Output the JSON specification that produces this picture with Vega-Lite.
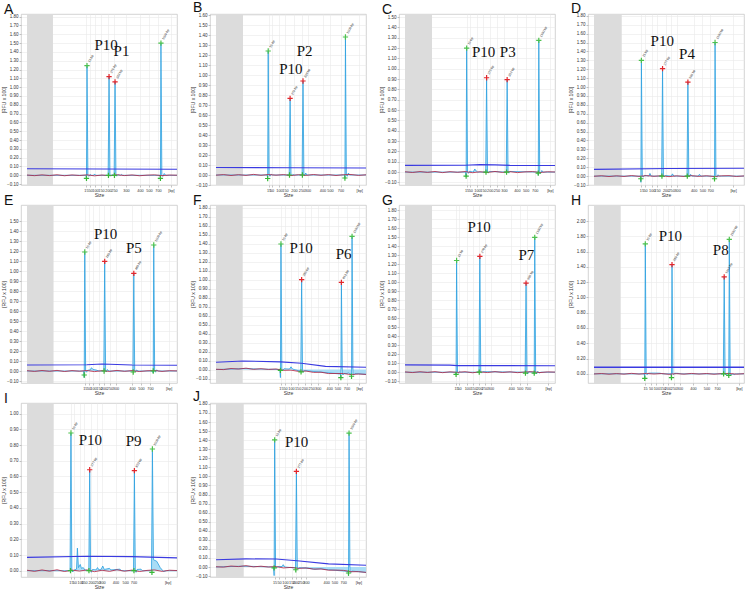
{
"$schema":"https://vega.github.io/schema/vega-lite/v6.json",
"background":"white",
"padding":{"left":0,"top":0,"right":0,"bottom":0},
"config":{
"font":"Liberation Sans",
"view":{"stroke":"#c8c8c8","strokeWidth":0.8},
"axis":{"tickCount":100,"labelFontSize":4.5,"titleFontSize":5,"titleFontWeight":"normal","labelColor":"#333333","titleColor":"#333333","gridColor":"#e9e9e9","gridWidth":0.6,"domain":false,"tickSize":2,"tickColor":"#888888","tickWidth":0.5,"labelPadding":1,"titlePadding":1,"labelOverlap":false,"labelFlush":false},
"axisY":{"minExtent":13,"maxExtent":13,"titlePadding":2},
"axisX":{"labelAngle":0,"labelFontSize":3.8},
"title":{"anchor":"start","fontSize":14,"fontWeight":"normal","offset":0,"baseline":"bottom","dy":7,"dx":3,"color":"#111111","frame":"bounds"}
},
"datasets":{
"A":[
{"s":"g","t":0,"t2":17.3},
{"s":"h","t":0,"v":0.075},{"s":"h","t":50,"v":0.072},{"s":"h","t":100,"v":0.068},
{"s":"b","t":0,"v":0.003},{"s":"b","t":5,"v":-0.004},{"s":"b","t":10,"v":0.005},{"s":"b","t":15,"v":-0.003},{"s":"b","t":20,"v":0.006},{"s":"b","t":25,"v":-0.005},{"s":"b","t":30,"v":0.004},{"s":"b","t":35,"v":-0.002},{"s":"b","t":40,"v":0.005},{"s":"b","t":45,"v":-0.006},{"s":"b","t":50,"v":0.003},{"s":"b","t":55,"v":-0.004},{"s":"b","t":60,"v":0.006},{"s":"b","t":65,"v":-0.003},{"s":"b","t":70,"v":0.004},{"s":"b","t":75,"v":-0.005},{"s":"b","t":80,"v":0.002},{"s":"b","t":85,"v":0.005},{"s":"b","t":90,"v":-0.004},{"s":"b","t":95,"v":0.003},{"s":"b","t":100,"v":0.001},
{"s":"p","t":0,"v":0},{"s":"p","t":39.3,"v":0},{"s":"p","t":39.65,"v":-0.04},{"s":"p","t":40,"v":1.245},{"s":"p","t":40.6,"v":0},{"s":"p","t":41.2,"v":-0.012},{"s":"p","t":42,"v":0.008},{"s":"p","t":43,"v":0},{"s":"p","t":44.5,"v":0},{"s":"p","t":45,"v":0.015},{"s":"p","t":45.8,"v":0},{"s":"p","t":54.1,"v":0},{"s":"p","t":54.7,"v":1.12},{"s":"p","t":55.3,"v":0},{"s":"p","t":55.8,"v":-0.01},{"s":"p","t":56.5,"v":0.006},{"s":"p","t":58.1,"v":0},{"s":"p","t":58.7,"v":1.06},{"s":"p","t":59.3,"v":0},{"s":"p","t":59.8,"v":-0.01},{"s":"p","t":60.5,"v":0.006},{"s":"p","t":62.3,"v":0},{"s":"p","t":63,"v":0.01},{"s":"p","t":63.8,"v":0},{"s":"p","t":88.6,"v":0},{"s":"p","t":88.95,"v":-0.035},{"s":"p","t":89.3,"v":1.5},{"s":"p","t":89.9,"v":0},{"s":"p","t":90.5,"v":-0.012},{"s":"p","t":91.5,"v":0.02},{"s":"p","t":92.5,"v":0},{"s":"p","t":100,"v":0},
{"s":"m","t":40,"v":1.245,"k":"L"},{"s":"m","t":89.3,"v":1.5,"k":"L"},{"s":"m","t":54.7,"v":1.12,"k":"S"},{"s":"m","t":58.7,"v":1.06,"k":"S"},{"s":"m","t":39.65,"v":-0.035,"k":"B"},{"s":"m","t":54.3,"v":0,"k":"B"},{"s":"m","t":58.3,"v":0,"k":"B"},{"s":"m","t":88.95,"v":-0.035,"k":"B"},
{"s":"l","t":40,"v":1.245,"lab":"15 bp"},{"s":"l","t":54.7,"v":1.12,"lab":"276 bp"},{"s":"l","t":58.7,"v":1.06,"lab":"323 bp"},{"s":"l","t":89.3,"v":1.5,"lab":"1500 bp"},
{"s":"P","t":52.7,"v":1.48,"lab":"P10"},{"s":"P","t":63,"v":1.41,"lab":"P1"}
],
"B":[
{"s":"g","t":0,"t2":18},
{"s":"h","t":0,"v":0.075},{"s":"h","t":50,"v":0.072},{"s":"h","t":100,"v":0.07},
{"s":"b","t":0,"v":-0.002},{"s":"b","t":5,"v":0.004},{"s":"b","t":10,"v":-0.005},{"s":"b","t":15,"v":0.003},{"s":"b","t":20,"v":-0.004},{"s":"b","t":25,"v":0.006},{"s":"b","t":30,"v":-0.003},{"s":"b","t":35,"v":0.005},{"s":"b","t":40,"v":-0.002},{"s":"b","t":45,"v":0.004},{"s":"b","t":50,"v":-0.006},{"s":"b","t":55,"v":0.003},{"s":"b","t":60,"v":-0.004},{"s":"b","t":65,"v":0.005},{"s":"b","t":70,"v":-0.003},{"s":"b","t":75,"v":0.004},{"s":"b","t":80,"v":-0.005},{"s":"b","t":85,"v":0.003},{"s":"b","t":90,"v":0.005},{"s":"b","t":95,"v":-0.004},{"s":"b","t":100,"v":0.002},
{"s":"p","t":0,"v":0},{"s":"p","t":34.1,"v":0},{"s":"p","t":34.45,"v":-0.04},{"s":"p","t":34.8,"v":1.24},{"s":"p","t":35.4,"v":0},{"s":"p","t":36,"v":-0.012},{"s":"p","t":36.8,"v":0.008},{"s":"p","t":37.6,"v":0},{"s":"p","t":48.8,"v":0},{"s":"p","t":49.4,"v":0.767},{"s":"p","t":50,"v":0},{"s":"p","t":50.5,"v":-0.01},{"s":"p","t":51.2,"v":0.006},{"s":"p","t":52,"v":0},{"s":"p","t":57.4,"v":0},{"s":"p","t":58,"v":0.94},{"s":"p","t":58.6,"v":0},{"s":"p","t":59.1,"v":-0.01},{"s":"p","t":59.8,"v":0.02},{"s":"p","t":60.6,"v":0},{"s":"p","t":85.6,"v":0},{"s":"p","t":85.95,"v":-0.035},{"s":"p","t":86.3,"v":1.38},{"s":"p","t":86.9,"v":0},{"s":"p","t":87.5,"v":-0.012},{"s":"p","t":88.3,"v":0.02},{"s":"p","t":89,"v":0},{"s":"p","t":100,"v":0},
{"s":"m","t":34.8,"v":1.24,"k":"L"},{"s":"m","t":86.3,"v":1.38,"k":"L"},{"s":"m","t":49.4,"v":0.767,"k":"S"},{"s":"m","t":58,"v":0.94,"k":"S"},{"s":"m","t":34.45,"v":-0.035,"k":"B"},{"s":"m","t":49,"v":0,"k":"B"},{"s":"m","t":57.6,"v":0,"k":"B"},{"s":"m","t":85.95,"v":-0.03,"k":"B"},
{"s":"l","t":34.8,"v":1.24,"lab":"15 bp"},{"s":"l","t":49.4,"v":0.767,"lab":"276 bp"},{"s":"l","t":58,"v":0.94,"lab":"339 bp"},{"s":"l","t":86.3,"v":1.38,"lab":"1500 bp"},
{"s":"P","t":49.9,"v":1.06,"lab":"P10"},{"s":"P","t":59.1,"v":1.24,"lab":"P2"}
],
"C":[
{"s":"g","t":0,"t2":18},
{"s":"h","t":0,"v":0.065},{"s":"h","t":40,"v":0.066},{"s":"h","t":50,"v":0.072},{"s":"h","t":60,"v":0.07},{"s":"h","t":70,"v":0.065},{"s":"h","t":100,"v":0.063},
{"s":"b","t":0,"v":0.003},{"s":"b","t":5,"v":-0.004},{"s":"b","t":10,"v":0.005},{"s":"b","t":15,"v":-0.003},{"s":"b","t":20,"v":0.006},{"s":"b","t":25,"v":-0.005},{"s":"b","t":30,"v":0.004},{"s":"b","t":35,"v":-0.002},{"s":"b","t":40,"v":0.005},{"s":"b","t":45,"v":-0.006},{"s":"b","t":50,"v":0.003},{"s":"b","t":55,"v":-0.004},{"s":"b","t":60,"v":0.006},{"s":"b","t":65,"v":-0.003},{"s":"b","t":70,"v":0.004},{"s":"b","t":75,"v":-0.005},{"s":"b","t":80,"v":0.002},{"s":"b","t":85,"v":0.005},{"s":"b","t":90,"v":-0.004},{"s":"b","t":95,"v":0.003},{"s":"b","t":100,"v":0.001},
{"s":"p","t":0,"v":0},{"s":"p","t":40.4,"v":0},{"s":"p","t":40.75,"v":-0.045},{"s":"p","t":41.1,"v":1.2},{"s":"p","t":41.7,"v":0},{"s":"p","t":42.3,"v":-0.012},{"s":"p","t":43.1,"v":0.008},{"s":"p","t":45.5,"v":0},{"s":"p","t":46.5,"v":0.03},{"s":"p","t":47.5,"v":0.01},{"s":"p","t":48.5,"v":0},{"s":"p","t":53.8,"v":0},{"s":"p","t":54.4,"v":0.913},{"s":"p","t":55,"v":0},{"s":"p","t":55.5,"v":-0.01},{"s":"p","t":56.2,"v":0.006},{"s":"p","t":67.5,"v":0},{"s":"p","t":68.1,"v":0.894},{"s":"p","t":68.7,"v":0},{"s":"p","t":69.2,"v":-0.01},{"s":"p","t":69.9,"v":0.006},{"s":"p","t":88.5,"v":0},{"s":"p","t":88.85,"v":-0.03},{"s":"p","t":89.2,"v":1.274},{"s":"p","t":89.8,"v":0},{"s":"p","t":90.4,"v":-0.012},{"s":"p","t":91.2,"v":0.015},{"s":"p","t":92,"v":0},{"s":"p","t":100,"v":0},
{"s":"m","t":41.1,"v":1.2,"k":"L"},{"s":"m","t":89.2,"v":1.274,"k":"L"},{"s":"m","t":54.4,"v":0.913,"k":"S"},{"s":"m","t":68.1,"v":0.894,"k":"S"},{"s":"m","t":40.75,"v":-0.04,"k":"B"},{"s":"m","t":54,"v":0,"k":"B"},{"s":"m","t":67.7,"v":0,"k":"B"},{"s":"m","t":88.85,"v":-0.01,"k":"B"},
{"s":"l","t":41.1,"v":1.2,"lab":"15 bp"},{"s":"l","t":54.4,"v":0.913,"lab":"275 bp"},{"s":"l","t":68.1,"v":0.894,"lab":"352 bp"},{"s":"l","t":89.2,"v":1.274,"lab":"1500 bp"},
{"s":"P","t":52.4,"v":1.16,"lab":"P10"},{"s":"P","t":68.5,"v":1.16,"lab":"P3"}
],
"D":[
{"s":"g","t":0,"t2":18.5},
{"s":"h","t":0,"v":0.075},{"s":"h","t":50,"v":0.085},{"s":"h","t":100,"v":0.088},
{"s":"b","t":0,"v":-0.002},{"s":"b","t":5,"v":0.004},{"s":"b","t":10,"v":-0.005},{"s":"b","t":15,"v":0.003},{"s":"b","t":20,"v":-0.004},{"s":"b","t":25,"v":0.006},{"s":"b","t":30,"v":-0.003},{"s":"b","t":35,"v":0.005},{"s":"b","t":40,"v":-0.002},{"s":"b","t":45,"v":0.004},{"s":"b","t":50,"v":-0.006},{"s":"b","t":55,"v":0.003},{"s":"b","t":60,"v":-0.004},{"s":"b","t":65,"v":0.005},{"s":"b","t":70,"v":-0.003},{"s":"b","t":75,"v":0.004},{"s":"b","t":80,"v":-0.005},{"s":"b","t":85,"v":0.003},{"s":"b","t":90,"v":0.005},{"s":"b","t":95,"v":-0.004},{"s":"b","t":100,"v":0.002},
{"s":"p","t":0,"v":0},{"s":"p","t":30.9,"v":0},{"s":"p","t":31.25,"v":-0.07},{"s":"p","t":31.6,"v":1.3},{"s":"p","t":32.2,"v":0},{"s":"p","t":32.8,"v":-0.012},{"s":"p","t":33.6,"v":0.008},{"s":"p","t":36.5,"v":0},{"s":"p","t":37.3,"v":0.03},{"s":"p","t":38.2,"v":0},{"s":"p","t":45.1,"v":0},{"s":"p","t":45.7,"v":1.206},{"s":"p","t":46.3,"v":0},{"s":"p","t":46.8,"v":-0.01},{"s":"p","t":47.5,"v":0.006},{"s":"p","t":51.5,"v":0},{"s":"p","t":52.3,"v":0.025},{"s":"p","t":53.2,"v":0},{"s":"p","t":62,"v":0},{"s":"p","t":62.6,"v":1.056},{"s":"p","t":63.2,"v":0},{"s":"p","t":63.7,"v":-0.01},{"s":"p","t":64.4,"v":0.02},{"s":"p","t":65.2,"v":0},{"s":"p","t":69.5,"v":0},{"s":"p","t":70.3,"v":0.02},{"s":"p","t":71.2,"v":0},{"s":"p","t":80,"v":0},{"s":"p","t":80.35,"v":-0.035},{"s":"p","t":80.7,"v":1.5},{"s":"p","t":81.3,"v":0},{"s":"p","t":81.9,"v":-0.012},{"s":"p","t":82.7,"v":0.015},{"s":"p","t":83.5,"v":0},{"s":"p","t":100,"v":0},
{"s":"m","t":31.6,"v":1.3,"k":"L"},{"s":"m","t":80.7,"v":1.5,"k":"L"},{"s":"m","t":45.7,"v":1.206,"k":"S"},{"s":"m","t":62.6,"v":1.056,"k":"S"},{"s":"m","t":31.25,"v":-0.03,"k":"B"},{"s":"m","t":45.3,"v":0,"k":"B"},{"s":"m","t":62.2,"v":0,"k":"B"},{"s":"m","t":80.35,"v":-0.03,"k":"B"},
{"s":"l","t":31.6,"v":1.3,"lab":"15 bp"},{"s":"l","t":45.7,"v":1.206,"lab":"277 bp"},{"s":"l","t":62.6,"v":1.056,"lab":"506 bp"},{"s":"l","t":80.7,"v":1.5,"lab":"1500 bp"},
{"s":"P","t":45.5,"v":1.52,"lab":"P10"},{"s":"P","t":62,"v":1.37,"lab":"P4"}
],
"E":[
{"s":"g","t":0,"t2":17.7},
{"s":"h","t":0,"v":0.06},{"s":"h","t":40,"v":0.063},{"s":"h","t":50,"v":0.07},{"s":"h","t":60,"v":0.065},{"s":"h","t":70,"v":0.06},{"s":"h","t":100,"v":0.058},
{"s":"b","t":0,"v":0.003},{"s":"b","t":5,"v":-0.004},{"s":"b","t":10,"v":0.005},{"s":"b","t":15,"v":-0.003},{"s":"b","t":20,"v":0.006},{"s":"b","t":25,"v":-0.005},{"s":"b","t":30,"v":0.004},{"s":"b","t":35,"v":-0.002},{"s":"b","t":40,"v":0.005},{"s":"b","t":45,"v":-0.006},{"s":"b","t":50,"v":0.003},{"s":"b","t":55,"v":-0.004},{"s":"b","t":60,"v":0.006},{"s":"b","t":65,"v":-0.003},{"s":"b","t":70,"v":0.004},{"s":"b","t":75,"v":-0.005},{"s":"b","t":80,"v":0.002},{"s":"b","t":85,"v":0.005},{"s":"b","t":90,"v":-0.004},{"s":"b","t":95,"v":0.003},{"s":"b","t":100,"v":0.001},
{"s":"p","t":0,"v":0},{"s":"p","t":37.8,"v":0},{"s":"p","t":38.15,"v":-0.065},{"s":"p","t":38.5,"v":1.19},{"s":"p","t":39.1,"v":0},{"s":"p","t":39.7,"v":-0.012},{"s":"p","t":40.5,"v":0.008},{"s":"p","t":42,"v":0.01},{"s":"p","t":43,"v":0.033},{"s":"p","t":44,"v":0.015},{"s":"p","t":46,"v":0.01},{"s":"p","t":48,"v":0},{"s":"p","t":51.2,"v":0},{"s":"p","t":51.8,"v":1.097},{"s":"p","t":52.4,"v":0},{"s":"p","t":52.9,"v":-0.01},{"s":"p","t":53.6,"v":0.015},{"s":"p","t":54.5,"v":0},{"s":"p","t":70.6,"v":0},{"s":"p","t":71.2,"v":0.977},{"s":"p","t":71.8,"v":0},{"s":"p","t":72.3,"v":-0.01},{"s":"p","t":73,"v":0.01},{"s":"p","t":74,"v":0},{"s":"p","t":83.8,"v":0},{"s":"p","t":84.15,"v":-0.02},{"s":"p","t":84.5,"v":1.26},{"s":"p","t":85.1,"v":0},{"s":"p","t":85.7,"v":-0.012},{"s":"p","t":86.5,"v":0.012},{"s":"p","t":87.3,"v":0},{"s":"p","t":100,"v":0},
{"s":"m","t":38.5,"v":1.19,"k":"L"},{"s":"m","t":84.5,"v":1.26,"k":"L"},{"s":"m","t":51.8,"v":1.097,"k":"S"},{"s":"m","t":71.2,"v":0.977,"k":"S"},{"s":"m","t":38.15,"v":-0.04,"k":"B"},{"s":"m","t":51.4,"v":0,"k":"B"},{"s":"m","t":70.8,"v":-0.01,"k":"B"},{"s":"m","t":84.15,"v":0,"k":"B"},
{"s":"l","t":38.5,"v":1.19,"lab":"15 bp"},{"s":"l","t":51.8,"v":1.097,"lab":"280 bp"},{"s":"l","t":71.2,"v":0.977,"lab":"489 bp"},{"s":"l","t":84.5,"v":1.26,"lab":"1500 bp"},
{"s":"P","t":52.4,"v":1.37,"lab":"P10"},{"s":"P","t":71.2,"v":1.23,"lab":"P5"}
],
"F":[
{"s":"g","t":0,"t2":17.8},
{"s":"h","t":0,"v":0.08},{"s":"h","t":18,"v":0.095},{"s":"h","t":43,"v":0.085},{"s":"h","t":57,"v":0.07},{"s":"h","t":73,"v":0.035},{"s":"h","t":100,"v":0.025},
{"s":"b","t":0,"v":0.003},{"s":"b","t":5,"v":-0.001},{"s":"b","t":10,"v":0.011},{"s":"b","t":15,"v":0.005},{"s":"b","t":20,"v":0.015},{"s":"b","t":25,"v":0.002},{"s":"b","t":30,"v":0.009},{"s":"b","t":35,"v":0.001},{"s":"b","t":40,"v":0.006},{"s":"b","t":45,"v":-0.009},{"s":"b","t":50,"v":-0.007},{"s":"b","t":55,"v":-0.021},{"s":"b","t":60,"v":-0.017},{"s":"b","t":65,"v":-0.032},{"s":"b","t":70,"v":-0.03},{"s":"b","t":75,"v":-0.045},{"s":"b","t":80,"v":-0.044},{"s":"b","t":85,"v":-0.045},{"s":"b","t":90,"v":-0.056},{"s":"b","t":95,"v":-0.05},{"s":"b","t":100,"v":-0.054},
{"s":"p","t":0,"v":0},{"s":"p","t":18,"v":0.01},{"s":"p","t":42.6,"v":0},{"s":"p","t":42.95,"v":-0.09},{"s":"p","t":43.3,"v":1.396},{"s":"p","t":43.9,"v":0},{"s":"p","t":44.5,"v":-0.012},{"s":"p","t":45.3,"v":0.008},{"s":"p","t":49,"v":0.005},{"s":"p","t":50,"v":0.03},{"s":"p","t":51,"v":0.005},{"s":"p","t":56.5,"v":-0.02},{"s":"p","t":57.1,"v":1.0},{"s":"p","t":57.7,"v":-0.02},{"s":"p","t":58.2,"v":-0.03},{"s":"p","t":58.9,"v":-0.012},{"s":"p","t":82.9,"v":-0.05},{"s":"p","t":83.25,"v":-0.09},{"s":"p","t":83.6,"v":0.97},{"s":"p","t":84.2,"v":-0.05},{"s":"p","t":84.7,"v":-0.06},{"s":"p","t":85.4,"v":-0.045},{"s":"p","t":87.5,"v":-0.045},{"s":"p","t":88.2,"v":-0.035},{"s":"p","t":89,"v":-0.05},{"s":"p","t":90,"v":-0.052},{"s":"p","t":90.35,"v":-0.075},{"s":"p","t":90.7,"v":1.48},{"s":"p","t":91.3,"v":-0.052},{"s":"p","t":91.9,"v":-0.06},{"s":"p","t":92.7,"v":-0.045},{"s":"p","t":100,"v":-0.055},
{"s":"m","t":43.3,"v":1.396,"k":"L"},{"s":"m","t":90.7,"v":1.48,"k":"L"},{"s":"m","t":57.1,"v":1.0,"k":"S"},{"s":"m","t":83.6,"v":0.97,"k":"S"},{"s":"m","t":42.95,"v":-0.01,"k":"B"},{"s":"m","t":56.7,"v":-0.026,"k":"B"},{"s":"m","t":83.25,"v":-0.09,"k":"B"},{"s":"m","t":90.35,"v":-0.075,"k":"B"},
{"s":"l","t":43.3,"v":1.396,"lab":"15 bp"},{"s":"l","t":57.1,"v":1.0,"lab":"285 bp"},{"s":"l","t":83.6,"v":0.97,"lab":"813 bp"},{"s":"l","t":90.7,"v":1.48,"lab":"1500 bp"},
{"s":"P","t":56.7,"v":1.35,"lab":"P10"},{"s":"P","t":85.1,"v":1.28,"lab":"P6"}
],
"G":[
{"s":"g","t":0,"t2":18},
{"s":"h","t":0,"v":0.081},{"s":"h","t":30,"v":0.078},{"s":"h","t":35,"v":0.073},{"s":"h","t":100,"v":0.072},
{"s":"b","t":0,"v":0.003},{"s":"b","t":5,"v":-0.004},{"s":"b","t":10,"v":0.005},{"s":"b","t":15,"v":-0.003},{"s":"b","t":20,"v":0.006},{"s":"b","t":25,"v":-0.005},{"s":"b","t":30,"v":0.004},{"s":"b","t":35,"v":-0.002},{"s":"b","t":40,"v":0.005},{"s":"b","t":45,"v":-0.006},{"s":"b","t":50,"v":0.003},{"s":"b","t":55,"v":-0.004},{"s":"b","t":60,"v":0.006},{"s":"b","t":65,"v":-0.003},{"s":"b","t":70,"v":0.004},{"s":"b","t":75,"v":-0.005},{"s":"b","t":80,"v":0.002},{"s":"b","t":85,"v":0.005},{"s":"b","t":90,"v":-0.004},{"s":"b","t":95,"v":0.003},{"s":"b","t":100,"v":0.001},
{"s":"p","t":0,"v":0},{"s":"p","t":33.7,"v":0},{"s":"p","t":34.05,"v":-0.03},{"s":"p","t":34.4,"v":1.24},{"s":"p","t":35,"v":0},{"s":"p","t":35.6,"v":-0.012},{"s":"p","t":36.4,"v":0.008},{"s":"p","t":37.2,"v":0},{"s":"p","t":49.3,"v":0},{"s":"p","t":49.9,"v":1.285},{"s":"p","t":50.5,"v":0},{"s":"p","t":51,"v":-0.01},{"s":"p","t":51.7,"v":0.006},{"s":"p","t":80.1,"v":0},{"s":"p","t":80.7,"v":0.989},{"s":"p","t":81.3,"v":0},{"s":"p","t":81.8,"v":-0.02},{"s":"p","t":82.5,"v":0.006},{"s":"p","t":85.8,"v":0},{"s":"p","t":86.15,"v":-0.02},{"s":"p","t":86.5,"v":1.496},{"s":"p","t":87.1,"v":0},{"s":"p","t":87.7,"v":-0.02},{"s":"p","t":88.5,"v":0.01},{"s":"p","t":89.5,"v":-0.01},{"s":"p","t":90.5,"v":0},{"s":"p","t":100,"v":0},
{"s":"m","t":34.4,"v":1.24,"k":"L"},{"s":"m","t":86.5,"v":1.496,"k":"L"},{"s":"m","t":49.9,"v":1.285,"k":"S"},{"s":"m","t":80.7,"v":0.989,"k":"S"},{"s":"m","t":34.05,"v":-0.025,"k":"B"},{"s":"m","t":49.5,"v":0,"k":"B"},{"s":"m","t":80.3,"v":-0.01,"k":"B"},{"s":"m","t":86.15,"v":-0.01,"k":"B"},
{"s":"l","t":34.4,"v":1.24,"lab":"15 bp"},{"s":"l","t":49.9,"v":1.285,"lab":"278 bp"},{"s":"l","t":80.7,"v":0.989,"lab":"906 bp"},{"s":"l","t":86.5,"v":1.496,"lab":"1500 bp"},
{"s":"P","t":49.4,"v":1.61,"lab":"P10"},{"s":"P","t":80.9,"v":1.3,"lab":"P7"}
],
"H":[
{"s":"g","t":0,"t2":17.8},
{"s":"h","t":0,"v":0.087},{"s":"h","t":100,"v":0.085},
{"s":"b","t":0,"v":-0.002},{"s":"b","t":5,"v":0.004},{"s":"b","t":10,"v":-0.005},{"s":"b","t":15,"v":0.003},{"s":"b","t":20,"v":-0.004},{"s":"b","t":25,"v":0.006},{"s":"b","t":30,"v":-0.003},{"s":"b","t":35,"v":0.005},{"s":"b","t":40,"v":-0.002},{"s":"b","t":45,"v":0.004},{"s":"b","t":50,"v":-0.006},{"s":"b","t":55,"v":0.003},{"s":"b","t":60,"v":-0.004},{"s":"b","t":65,"v":0.005},{"s":"b","t":70,"v":-0.003},{"s":"b","t":75,"v":0.004},{"s":"b","t":80,"v":-0.005},{"s":"b","t":85,"v":0.003},{"s":"b","t":90,"v":0.005},{"s":"b","t":95,"v":-0.004},{"s":"b","t":100,"v":0.002},
{"s":"p","t":0,"v":0},{"s":"p","t":33.5,"v":0},{"s":"p","t":33.85,"v":-0.06},{"s":"p","t":34.2,"v":1.7},{"s":"p","t":34.8,"v":0},{"s":"p","t":35.4,"v":-0.012},{"s":"p","t":36.2,"v":0.008},{"s":"p","t":38,"v":0.01},{"s":"p","t":41,"v":0.01},{"s":"p","t":44,"v":0.008},{"s":"p","t":46,"v":0},{"s":"p","t":51.3,"v":0},{"s":"p","t":51.65,"v":-0.05},{"s":"p","t":52,"v":1.43},{"s":"p","t":52.6,"v":0},{"s":"p","t":53.1,"v":-0.01},{"s":"p","t":53.8,"v":0.008},{"s":"p","t":56,"v":0.006},{"s":"p","t":58,"v":0},{"s":"p","t":86.2,"v":0},{"s":"p","t":86.8,"v":1.27},{"s":"p","t":87.4,"v":0},{"s":"p","t":87.9,"v":-0.015},{"s":"p","t":88.6,"v":0},{"s":"p","t":89.5,"v":0},{"s":"p","t":89.85,"v":-0.02},{"s":"p","t":90.2,"v":1.76},{"s":"p","t":90.8,"v":0},{"s":"p","t":91.4,"v":-0.015},{"s":"p","t":92.5,"v":0},{"s":"p","t":93.5,"v":-0.01},{"s":"p","t":94.5,"v":0},{"s":"p","t":100,"v":0},
{"s":"m","t":34.2,"v":1.7,"k":"L"},{"s":"m","t":90.2,"v":1.76,"k":"L"},{"s":"m","t":52,"v":1.43,"k":"S"},{"s":"m","t":86.8,"v":1.27,"k":"S"},{"s":"m","t":33.85,"v":-0.06,"k":"B"},{"s":"m","t":51.65,"v":-0.05,"k":"B"},{"s":"m","t":86.4,"v":0,"k":"B"},{"s":"m","t":89.85,"v":-0.02,"k":"B"},
{"s":"l","t":34.2,"v":1.7,"lab":"15 bp"},{"s":"l","t":52,"v":1.43,"lab":"280 bp"},{"s":"l","t":86.8,"v":1.27,"lab":"1016 bp"},{"s":"l","t":90.2,"v":1.76,"lab":"1500 bp"},
{"s":"P","t":50.9,"v":1.81,"lab":"P10"},{"s":"P","t":84.5,"v":1.62,"lab":"P8"}
],
"I":[
{"s":"g","t":0,"t2":17.8},
{"s":"h","t":0,"v":0.085},{"s":"h","t":40,"v":0.092},{"s":"h","t":70,"v":0.09},{"s":"h","t":100,"v":0.082},
{"s":"b","t":0,"v":0.003},{"s":"b","t":5,"v":-0.004},{"s":"b","t":10,"v":0.005},{"s":"b","t":15,"v":-0.003},{"s":"b","t":20,"v":0.006},{"s":"b","t":25,"v":-0.005},{"s":"b","t":30,"v":0.004},{"s":"b","t":35,"v":-0.002},{"s":"b","t":40,"v":0.005},{"s":"b","t":45,"v":-0.006},{"s":"b","t":50,"v":0.003},{"s":"b","t":55,"v":-0.004},{"s":"b","t":60,"v":0.006},{"s":"b","t":65,"v":-0.003},{"s":"b","t":70,"v":0.004},{"s":"b","t":75,"v":-0.005},{"s":"b","t":80,"v":0.002},{"s":"b","t":85,"v":0.005},{"s":"b","t":90,"v":-0.004},{"s":"b","t":95,"v":0.003},{"s":"b","t":100,"v":0.001},
{"s":"p","t":0,"v":0},{"s":"p","t":28.7,"v":0},{"s":"p","t":29.3,"v":0.877},{"s":"p","t":29.9,"v":0},{"s":"p","t":30.5,"v":-0.008},{"s":"p","t":31.5,"v":0.005},{"s":"p","t":33,"v":0.01},{"s":"p","t":33.6,"v":0.144},{"s":"p","t":34.3,"v":0.02},{"s":"p","t":35.5,"v":0.04},{"s":"p","t":36.3,"v":0.015},{"s":"p","t":37.5,"v":0.02},{"s":"p","t":38.5,"v":0.005},{"s":"p","t":41.2,"v":0},{"s":"p","t":41.8,"v":0.643},{"s":"p","t":42.4,"v":0},{"s":"p","t":42.9,"v":-0.01},{"s":"p","t":43.6,"v":0.008},{"s":"p","t":46,"v":0.005},{"s":"p","t":47,"v":0.02},{"s":"p","t":48,"v":0.005},{"s":"p","t":49.5,"v":0.01},{"s":"p","t":50.5,"v":0.03},{"s":"p","t":51.5,"v":0.008},{"s":"p","t":55,"v":0.015},{"s":"p","t":56,"v":0.005},{"s":"p","t":62,"v":0.01},{"s":"p","t":63,"v":0},{"s":"p","t":71,"v":0},{"s":"p","t":71.6,"v":0.637},{"s":"p","t":72.2,"v":0},{"s":"p","t":72.7,"v":-0.01},{"s":"p","t":73.4,"v":0.008},{"s":"p","t":76,"v":0.01},{"s":"p","t":77,"v":0},{"s":"p","t":83,"v":0},{"s":"p","t":83.6,"v":0.775},{"s":"p","t":84.3,"v":0.07},{"s":"p","t":86.5,"v":0.06},{"s":"p","t":88.8,"v":0.02},{"s":"p","t":91,"v":-0.005},{"s":"p","t":93,"v":0},{"s":"p","t":100,"v":0},
{"s":"m","t":29.3,"v":0.877,"k":"L"},{"s":"m","t":83.6,"v":0.775,"k":"L"},{"s":"m","t":41.8,"v":0.643,"k":"S"},{"s":"m","t":71.6,"v":0.637,"k":"S"},{"s":"m","t":29,"v":0,"k":"B"},{"s":"m","t":41.3,"v":0,"k":"B"},{"s":"m","t":71.3,"v":0,"k":"B"},{"s":"m","t":83.3,"v":-0.01,"k":"B"},
{"s":"l","t":29.3,"v":0.877,"lab":"15 bp"},{"s":"l","t":41.8,"v":0.643,"lab":"277 bp"},{"s":"l","t":71.6,"v":0.637,"lab":"823 bp"},{"s":"l","t":83.6,"v":0.775,"lab":"1500 bp"},
{"s":"P","t":42.2,"v":0.834,"lab":"P10"},{"s":"P","t":71.1,"v":0.824,"lab":"P9"}
],
"J":[
{"s":"g","t":0,"t2":18.5},
{"s":"h","t":0,"v":0.08},{"s":"h","t":20,"v":0.09},{"s":"h","t":40,"v":0.088},{"s":"h","t":54,"v":0.07},{"s":"h","t":75,"v":0.035},{"s":"h","t":100,"v":0.02},
{"s":"b","t":0,"v":0.003},{"s":"b","t":5,"v":-0.001},{"s":"b","t":10,"v":0.011},{"s":"b","t":15,"v":0.005},{"s":"b","t":20,"v":0.015},{"s":"b","t":25,"v":0.002},{"s":"b","t":30,"v":0.009},{"s":"b","t":35,"v":0.0},{"s":"b","t":40,"v":0.005},{"s":"b","t":45,"v":-0.01},{"s":"b","t":50,"v":-0.004},{"s":"b","t":55,"v":-0.015},{"s":"b","t":60,"v":-0.01},{"s":"b","t":65,"v":-0.023},{"s":"b","t":70,"v":-0.021},{"s":"b","t":75,"v":-0.035},{"s":"b","t":80,"v":-0.034},{"s":"b","t":85,"v":-0.037},{"s":"b","t":90,"v":-0.052},{"s":"b","t":95,"v":-0.051},{"s":"b","t":100,"v":-0.059},
{"s":"p","t":0,"v":0},{"s":"p","t":18,"v":0.01},{"s":"p","t":38.4,"v":0},{"s":"p","t":38.75,"v":-0.095},{"s":"p","t":39.1,"v":1.404},{"s":"p","t":39.7,"v":0},{"s":"p","t":40.3,"v":-0.012},{"s":"p","t":41.1,"v":0.005},{"s":"p","t":44,"v":0.005},{"s":"p","t":44.8,"v":0.026},{"s":"p","t":45.8,"v":0.0},{"s":"p","t":53,"v":-0.01},{"s":"p","t":53.6,"v":1.055},{"s":"p","t":54.2,"v":-0.01},{"s":"p","t":54.7,"v":-0.02},{"s":"p","t":55.4,"v":-0.008},{"s":"p","t":62,"v":-0.015},{"s":"p","t":66,"v":-0.025},{"s":"p","t":70,"v":-0.02},{"s":"p","t":75,"v":-0.03},{"s":"p","t":88,"v":-0.048},{"s":"p","t":88.35,"v":-0.095},{"s":"p","t":88.7,"v":1.478},{"s":"p","t":89.3,"v":-0.05},{"s":"p","t":89.9,"v":-0.06},{"s":"p","t":90.7,"v":-0.045},{"s":"p","t":100,"v":-0.06},
{"s":"m","t":39.1,"v":1.404,"k":"L"},{"s":"m","t":88.7,"v":1.478,"k":"L"},{"s":"m","t":53.6,"v":1.055,"k":"S"},{"s":"m","t":38.75,"v":-0.01,"k":"B"},{"s":"m","t":53.2,"v":-0.03,"k":"B"},{"s":"m","t":88.35,"v":-0.066,"k":"B"},
{"s":"l","t":39.1,"v":1.404,"lab":"15 bp"},{"s":"l","t":53.6,"v":1.055,"lab":"277 bp"},{"s":"l","t":88.7,"v":1.478,"lab":"1500 bp"},
{"s":"P","t":53.8,"v":1.375,"lab":"P10"}
]
},
"columns":4,
"bounds":"flush",
"spacing":{"row":20,"column":33},
"concat":[
{"title":"A","width":156,"height":171,"data":{"name":"A"},"layer":[
{"transform":[{"filter":"datum.s=='g'"}],"mark":{"type":"rect","color":"#dcdcdc"},"encoding":{"x":{"field":"t","type":"quantitative","title":"Size","scale":{"domain":[-4,100],"nice":false,"zero":false},"axis":{"values":[39.3,42,45.3,49.3,54,58,66,75.3,81.3,87.3,96],"labelExpr":"['15','50','100','150','200','250','300','400','500','700','[bp]'][indexof([39.3,42,45.3,49.3,54,58,66,75.3,81.3,87.3,96],datum.value)]"}},"x2":{"field":"t2"}}},
{"transform":[{"filter":"datum.s=='p'"}],"mark":{"type":"area","color":"#a9ddf6"},"encoding":{"x":{"field":"t","type":"quantitative","title":"Size"},"y":{"field":"v","type":"quantitative","title":"[RFU x 100]","scale":{"domain":[-0.11,1.83],"nice":false,"zero":false},"axis":{"values":[-0.1,0,0.1,0.2,0.3,0.4,0.5,0.6,0.7,0.8,0.9,1,1.1,1.2,1.3,1.4,1.5,1.6,1.7,1.8],"format":".2f"}},"y2":{"datum":0}}},
{"transform":[{"filter":"datum.s=='p'"}],"mark":{"type":"line","color":"#2b9fe0","strokeWidth":0.8},"encoding":{"x":{"field":"t","type":"quantitative","title":"Size"},"y":{"field":"v","type":"quantitative","title":"[RFU x 100]"}}},
{"transform":[{"filter":"datum.s=='h'"}],"mark":{"type":"line","color":"#3a3ae0","strokeWidth":1.1},"encoding":{"x":{"field":"t","type":"quantitative","title":"Size"},"y":{"field":"v","type":"quantitative","title":"[RFU x 100]"}}},
{"transform":[{"filter":"datum.s=='b'"}],"mark":{"type":"line","color":"#b41e3c","strokeWidth":0.8},"encoding":{"x":{"field":"t","type":"quantitative","title":"Size"},"y":{"field":"v","type":"quantitative","title":"[RFU x 100]"}}},
{"transform":[{"filter":"datum.s=='m'"}],"mark":{"type":"point","shape":"M-1,0H1M0,-1V1","size":28,"strokeWidth":1.2,"filled":false,"opacity":1},"encoding":{"x":{"field":"t","type":"quantitative","title":"Size"},"y":{"field":"v","type":"quantitative","title":"[RFU x 100]"},"color":{"field":"k","type":"nominal","scale":{"domain":["L","S","B"],"range":["#4dc24d","#e3262b","#38b838"]},"legend":null}}},
{"transform":[{"filter":"datum.s=='l'"}],"mark":{"type":"text","angle":-62,"align":"left","baseline":"middle","dx":4,"fontSize":3.2,"color":"#222222"},"encoding":{"x":{"field":"t","type":"quantitative","title":"Size"},"y":{"field":"v","type":"quantitative","title":"[RFU x 100]"},"text":{"field":"lab"}}},
{"transform":[{"filter":"datum.s=='P'"}],"mark":{"type":"text","font":"Liberation Serif","fontSize":15,"color":"#111111"},"encoding":{"x":{"field":"t","type":"quantitative","title":"Size"},"y":{"field":"v","type":"quantitative","title":"[RFU x 100]"},"text":{"field":"lab"}}}
]},
{"title":"B","width":156,"height":171,"data":{"name":"B"},"layer":[
{"transform":[{"filter":"datum.s=='g'"}],"mark":{"type":"rect","color":"#dcdcdc"},"encoding":{"x":{"field":"t","type":"quantitative","title":"Size","scale":{"domain":[-4,100],"nice":false,"zero":false},"axis":{"values":[35,37,42,46,52,57,61,71,76,83,95.5],"labelExpr":"['15','50','100','150','200','250','300','400','500','700','[bp]'][indexof([35,37,42,46,52,57,61,71,76,83,95.5],datum.value)]"}},"x2":{"field":"t2"}}},
{"transform":[{"filter":"datum.s=='p'"}],"mark":{"type":"area","color":"#a9ddf6"},"encoding":{"x":{"field":"t","type":"quantitative","title":"Size"},"y":{"field":"v","type":"quantitative","title":"[RFU x 100]","scale":{"domain":[-0.1,1.61],"nice":false,"zero":false},"axis":{"values":[-0.1,0,0.1,0.2,0.3,0.4,0.5,0.6,0.7,0.8,0.9,1,1.1,1.2,1.3,1.4,1.5,1.6],"format":".2f"}},"y2":{"datum":0}}},
{"transform":[{"filter":"datum.s=='p'"}],"mark":{"type":"line","color":"#2b9fe0","strokeWidth":0.8},"encoding":{"x":{"field":"t","type":"quantitative","title":"Size"},"y":{"field":"v","type":"quantitative","title":"[RFU x 100]"}}},
{"transform":[{"filter":"datum.s=='h'"}],"mark":{"type":"line","color":"#3a3ae0","strokeWidth":1.1},"encoding":{"x":{"field":"t","type":"quantitative","title":"Size"},"y":{"field":"v","type":"quantitative","title":"[RFU x 100]"}}},
{"transform":[{"filter":"datum.s=='b'"}],"mark":{"type":"line","color":"#b41e3c","strokeWidth":0.8},"encoding":{"x":{"field":"t","type":"quantitative","title":"Size"},"y":{"field":"v","type":"quantitative","title":"[RFU x 100]"}}},
{"transform":[{"filter":"datum.s=='m'"}],"mark":{"type":"point","shape":"M-1,0H1M0,-1V1","size":28,"strokeWidth":1.2,"filled":false,"opacity":1},"encoding":{"x":{"field":"t","type":"quantitative","title":"Size"},"y":{"field":"v","type":"quantitative","title":"[RFU x 100]"},"color":{"field":"k","type":"nominal","scale":{"domain":["L","S","B"],"range":["#4dc24d","#e3262b","#38b838"]},"legend":null}}},
{"transform":[{"filter":"datum.s=='l'"}],"mark":{"type":"text","angle":-62,"align":"left","baseline":"middle","dx":4,"fontSize":3.2,"color":"#222222"},"encoding":{"x":{"field":"t","type":"quantitative","title":"Size"},"y":{"field":"v","type":"quantitative","title":"[RFU x 100]"},"text":{"field":"lab"}}},
{"transform":[{"filter":"datum.s=='P'"}],"mark":{"type":"text","font":"Liberation Serif","fontSize":15,"color":"#111111"},"encoding":{"x":{"field":"t","type":"quantitative","title":"Size"},"y":{"field":"v","type":"quantitative","title":"[RFU x 100]"},"text":{"field":"lab"}}}
]},
{"title":"C","width":156,"height":171,"data":{"name":"C"},"layer":[
{"transform":[{"filter":"datum.s=='g'"}],"mark":{"type":"rect","color":"#dcdcdc"},"encoding":{"x":{"field":"t","type":"quantitative","title":"Size","scale":{"domain":[-4,100],"nice":false,"zero":false},"axis":{"values":[41,43.5,48,52,56.5,61,66,74.6,80.4,86.5,96.6],"labelExpr":"['15','50','100','150','200','250','300','400','500','700','[bp]'][indexof([41,43.5,48,52,56.5,61,66,74.6,80.4,86.5,96.6],datum.value)]"}},"x2":{"field":"t2"}}},
{"transform":[{"filter":"datum.s=='p'"}],"mark":{"type":"area","color":"#a9ddf6"},"encoding":{"x":{"field":"t","type":"quantitative","title":"Size"},"y":{"field":"v","type":"quantitative","title":"[RFU x 100]","scale":{"domain":[-0.125,1.53],"nice":false,"zero":false},"axis":{"values":[-0.1,0,0.1,0.2,0.3,0.4,0.5,0.6,0.7,0.8,0.9,1,1.1,1.2,1.3,1.4,1.5],"format":".2f"}},"y2":{"datum":0}}},
{"transform":[{"filter":"datum.s=='p'"}],"mark":{"type":"line","color":"#2b9fe0","strokeWidth":0.8},"encoding":{"x":{"field":"t","type":"quantitative","title":"Size"},"y":{"field":"v","type":"quantitative","title":"[RFU x 100]"}}},
{"transform":[{"filter":"datum.s=='h'"}],"mark":{"type":"line","color":"#3a3ae0","strokeWidth":1.1},"encoding":{"x":{"field":"t","type":"quantitative","title":"Size"},"y":{"field":"v","type":"quantitative","title":"[RFU x 100]"}}},
{"transform":[{"filter":"datum.s=='b'"}],"mark":{"type":"line","color":"#b41e3c","strokeWidth":0.8},"encoding":{"x":{"field":"t","type":"quantitative","title":"Size"},"y":{"field":"v","type":"quantitative","title":"[RFU x 100]"}}},
{"transform":[{"filter":"datum.s=='m'"}],"mark":{"type":"point","shape":"M-1,0H1M0,-1V1","size":28,"strokeWidth":1.2,"filled":false,"opacity":1},"encoding":{"x":{"field":"t","type":"quantitative","title":"Size"},"y":{"field":"v","type":"quantitative","title":"[RFU x 100]"},"color":{"field":"k","type":"nominal","scale":{"domain":["L","S","B"],"range":["#4dc24d","#e3262b","#38b838"]},"legend":null}}},
{"transform":[{"filter":"datum.s=='l'"}],"mark":{"type":"text","angle":-62,"align":"left","baseline":"middle","dx":4,"fontSize":3.2,"color":"#222222"},"encoding":{"x":{"field":"t","type":"quantitative","title":"Size"},"y":{"field":"v","type":"quantitative","title":"[RFU x 100]"},"text":{"field":"lab"}}},
{"transform":[{"filter":"datum.s=='P'"}],"mark":{"type":"text","font":"Liberation Serif","fontSize":15,"color":"#111111"},"encoding":{"x":{"field":"t","type":"quantitative","title":"Size"},"y":{"field":"v","type":"quantitative","title":"[RFU x 100]"},"text":{"field":"lab"}}}
]},
{"title":"D","width":156,"height":171,"data":{"name":"D"},"layer":[
{"transform":[{"filter":"datum.s=='g'"}],"mark":{"type":"rect","color":"#dcdcdc"},"encoding":{"x":{"field":"t","type":"quantitative","title":"Size","scale":{"domain":[-4,100],"nice":false,"zero":false},"axis":{"values":[31.6,34,38.5,42,47.7,51.4,55.4,66.4,72.3,77.4,92.7],"labelExpr":"['15','50','100','150','200','250','300','400','500','700','[bp]'][indexof([31.6,34,38.5,42,47.7,51.4,55.4,66.4,72.3,77.4,92.7],datum.value)]"}},"x2":{"field":"t2"}}},
{"transform":[{"filter":"datum.s=='p'"}],"mark":{"type":"area","color":"#a9ddf6"},"encoding":{"x":{"field":"t","type":"quantitative","title":"Size"},"y":{"field":"v","type":"quantitative","title":"[RFU x 100]","scale":{"domain":[-0.1,1.82],"nice":false,"zero":false},"axis":{"values":[-0.1,0,0.1,0.2,0.3,0.4,0.5,0.6,0.7,0.8,0.9,1,1.1,1.2,1.3,1.4,1.5,1.6,1.7,1.8],"format":".2f"}},"y2":{"datum":0}}},
{"transform":[{"filter":"datum.s=='p'"}],"mark":{"type":"line","color":"#2b9fe0","strokeWidth":0.8},"encoding":{"x":{"field":"t","type":"quantitative","title":"Size"},"y":{"field":"v","type":"quantitative","title":"[RFU x 100]"}}},
{"transform":[{"filter":"datum.s=='h'"}],"mark":{"type":"line","color":"#3a3ae0","strokeWidth":1.1},"encoding":{"x":{"field":"t","type":"quantitative","title":"Size"},"y":{"field":"v","type":"quantitative","title":"[RFU x 100]"}}},
{"transform":[{"filter":"datum.s=='b'"}],"mark":{"type":"line","color":"#b41e3c","strokeWidth":0.8},"encoding":{"x":{"field":"t","type":"quantitative","title":"Size"},"y":{"field":"v","type":"quantitative","title":"[RFU x 100]"}}},
{"transform":[{"filter":"datum.s=='m'"}],"mark":{"type":"point","shape":"M-1,0H1M0,-1V1","size":28,"strokeWidth":1.2,"filled":false,"opacity":1},"encoding":{"x":{"field":"t","type":"quantitative","title":"Size"},"y":{"field":"v","type":"quantitative","title":"[RFU x 100]"},"color":{"field":"k","type":"nominal","scale":{"domain":["L","S","B"],"range":["#4dc24d","#e3262b","#38b838"]},"legend":null}}},
{"transform":[{"filter":"datum.s=='l'"}],"mark":{"type":"text","angle":-62,"align":"left","baseline":"middle","dx":4,"fontSize":3.2,"color":"#222222"},"encoding":{"x":{"field":"t","type":"quantitative","title":"Size"},"y":{"field":"v","type":"quantitative","title":"[RFU x 100]"},"text":{"field":"lab"}}},
{"transform":[{"filter":"datum.s=='P'"}],"mark":{"type":"text","font":"Liberation Serif","fontSize":15,"color":"#111111"},"encoding":{"x":{"field":"t","type":"quantitative","title":"Size"},"y":{"field":"v","type":"quantitative","title":"[RFU x 100]"},"text":{"field":"lab"}}}
]},
{"title":"E","width":156,"height":178,"data":{"name":"E"},"layer":[
{"transform":[{"filter":"datum.s=='g'"}],"mark":{"type":"rect","color":"#dcdcdc"},"encoding":{"x":{"field":"t","type":"quantitative","title":"Size","scale":{"domain":[-4,100],"nice":false,"zero":false},"axis":{"values":[38.5,41,44,48,51,55,59,70,76,82,94.5],"labelExpr":"['15','50','100','150','200','250','300','400','500','700','[bp]'][indexof([38.5,41,44,48,51,55,59,70,76,82,94.5],datum.value)]"}},"x2":{"field":"t2"}}},
{"transform":[{"filter":"datum.s=='p'"}],"mark":{"type":"area","color":"#a9ddf6"},"encoding":{"x":{"field":"t","type":"quantitative","title":"Size"},"y":{"field":"v","type":"quantitative","title":"[RFU x 100]","scale":{"domain":[-0.12,1.66],"nice":false,"zero":false},"axis":{"values":[-0.1,0,0.1,0.2,0.3,0.4,0.5,0.6,0.7,0.8,0.9,1,1.1,1.2,1.3,1.4,1.5],"format":".2f"}},"y2":{"datum":0}}},
{"transform":[{"filter":"datum.s=='p'"}],"mark":{"type":"line","color":"#2b9fe0","strokeWidth":0.8},"encoding":{"x":{"field":"t","type":"quantitative","title":"Size"},"y":{"field":"v","type":"quantitative","title":"[RFU x 100]"}}},
{"transform":[{"filter":"datum.s=='h'"}],"mark":{"type":"line","color":"#3a3ae0","strokeWidth":1.1},"encoding":{"x":{"field":"t","type":"quantitative","title":"Size"},"y":{"field":"v","type":"quantitative","title":"[RFU x 100]"}}},
{"transform":[{"filter":"datum.s=='b'"}],"mark":{"type":"line","color":"#b41e3c","strokeWidth":0.8},"encoding":{"x":{"field":"t","type":"quantitative","title":"Size"},"y":{"field":"v","type":"quantitative","title":"[RFU x 100]"}}},
{"transform":[{"filter":"datum.s=='m'"}],"mark":{"type":"point","shape":"M-1,0H1M0,-1V1","size":28,"strokeWidth":1.2,"filled":false,"opacity":1},"encoding":{"x":{"field":"t","type":"quantitative","title":"Size"},"y":{"field":"v","type":"quantitative","title":"[RFU x 100]"},"color":{"field":"k","type":"nominal","scale":{"domain":["L","S","B"],"range":["#4dc24d","#e3262b","#38b838"]},"legend":null}}},
{"transform":[{"filter":"datum.s=='l'"}],"mark":{"type":"text","angle":-62,"align":"left","baseline":"middle","dx":4,"fontSize":3.2,"color":"#222222"},"encoding":{"x":{"field":"t","type":"quantitative","title":"Size"},"y":{"field":"v","type":"quantitative","title":"[RFU x 100]"},"text":{"field":"lab"}}},
{"transform":[{"filter":"datum.s=='P'"}],"mark":{"type":"text","font":"Liberation Serif","fontSize":15,"color":"#111111"},"encoding":{"x":{"field":"t","type":"quantitative","title":"Size"},"y":{"field":"v","type":"quantitative","title":"[RFU x 100]"},"text":{"field":"lab"}}}
]},
{"title":"F","width":156,"height":178,"data":{"name":"F"},"layer":[
{"transform":[{"filter":"datum.s=='g'"}],"mark":{"type":"rect","color":"#dcdcdc"},"encoding":{"x":{"field":"t","type":"quantitative","title":"Size","scale":{"domain":[-4,100],"nice":false,"zero":false},"axis":{"values":[43.3,46,50,54.4,59,63.5,67.8,75.5,81,87,95.5],"labelExpr":"['15','50','100','150','200','250','300','400','500','700','[bp]'][indexof([43.3,46,50,54.4,59,63.5,67.8,75.5,81,87,95.5],datum.value)]"}},"x2":{"field":"t2"}}},
{"transform":[{"filter":"datum.s=='p'"}],"mark":{"type":"area","color":"#a9ddf6"},"encoding":{"x":{"field":"t","type":"quantitative","title":"Size"},"y":{"field":"v","type":"quantitative","title":"[RFU x 100]","scale":{"domain":[-0.15,1.83],"nice":false,"zero":false},"axis":{"values":[-0.1,0,0.1,0.2,0.3,0.4,0.5,0.6,0.7,0.8,0.9,1,1.1,1.2,1.3,1.4,1.5,1.6,1.7,1.8],"format":".2f"}},"y2":{"datum":0}}},
{"transform":[{"filter":"datum.s=='p'"}],"mark":{"type":"line","color":"#2b9fe0","strokeWidth":0.8},"encoding":{"x":{"field":"t","type":"quantitative","title":"Size"},"y":{"field":"v","type":"quantitative","title":"[RFU x 100]"}}},
{"transform":[{"filter":"datum.s=='h'"}],"mark":{"type":"line","color":"#3a3ae0","strokeWidth":1.1},"encoding":{"x":{"field":"t","type":"quantitative","title":"Size"},"y":{"field":"v","type":"quantitative","title":"[RFU x 100]"}}},
{"transform":[{"filter":"datum.s=='b'"}],"mark":{"type":"line","color":"#b41e3c","strokeWidth":0.8},"encoding":{"x":{"field":"t","type":"quantitative","title":"Size"},"y":{"field":"v","type":"quantitative","title":"[RFU x 100]"}}},
{"transform":[{"filter":"datum.s=='m'"}],"mark":{"type":"point","shape":"M-1,0H1M0,-1V1","size":28,"strokeWidth":1.2,"filled":false,"opacity":1},"encoding":{"x":{"field":"t","type":"quantitative","title":"Size"},"y":{"field":"v","type":"quantitative","title":"[RFU x 100]"},"color":{"field":"k","type":"nominal","scale":{"domain":["L","S","B"],"range":["#4dc24d","#e3262b","#38b838"]},"legend":null}}},
{"transform":[{"filter":"datum.s=='l'"}],"mark":{"type":"text","angle":-62,"align":"left","baseline":"middle","dx":4,"fontSize":3.2,"color":"#222222"},"encoding":{"x":{"field":"t","type":"quantitative","title":"Size"},"y":{"field":"v","type":"quantitative","title":"[RFU x 100]"},"text":{"field":"lab"}}},
{"transform":[{"filter":"datum.s=='P'"}],"mark":{"type":"text","font":"Liberation Serif","fontSize":15,"color":"#111111"},"encoding":{"x":{"field":"t","type":"quantitative","title":"Size"},"y":{"field":"v","type":"quantitative","title":"[RFU x 100]"},"text":{"field":"lab"}}}
]},
{"title":"G","width":156,"height":178,"data":{"name":"G"},"layer":[
{"transform":[{"filter":"datum.s=='g'"}],"mark":{"type":"rect","color":"#dcdcdc"},"encoding":{"x":{"field":"t","type":"quantitative","title":"Size","scale":{"domain":[-4,100],"nice":false,"zero":false},"axis":{"values":[34,36,41.6,45.6,49.4,53,57,70.8,76.4,81.6,95.5],"labelExpr":"['15','50','100','150','200','250','300','400','500','700','[bp]'][indexof([34,36,41.6,45.6,49.4,53,57,70.8,76.4,81.6,95.5],datum.value)]"}},"x2":{"field":"t2"}}},
{"transform":[{"filter":"datum.s=='p'"}],"mark":{"type":"area","color":"#a9ddf6"},"encoding":{"x":{"field":"t","type":"quantitative","title":"Size"},"y":{"field":"v","type":"quantitative","title":"[RFU x 100]","scale":{"domain":[-0.12,1.856],"nice":false,"zero":false},"axis":{"values":[-0.1,0,0.1,0.2,0.3,0.4,0.5,0.6,0.7,0.8,0.9,1,1.1,1.2,1.3,1.4,1.5,1.6,1.7,1.8],"format":".2f"}},"y2":{"datum":0}}},
{"transform":[{"filter":"datum.s=='p'"}],"mark":{"type":"line","color":"#2b9fe0","strokeWidth":0.8},"encoding":{"x":{"field":"t","type":"quantitative","title":"Size"},"y":{"field":"v","type":"quantitative","title":"[RFU x 100]"}}},
{"transform":[{"filter":"datum.s=='h'"}],"mark":{"type":"line","color":"#3a3ae0","strokeWidth":1.1},"encoding":{"x":{"field":"t","type":"quantitative","title":"Size"},"y":{"field":"v","type":"quantitative","title":"[RFU x 100]"}}},
{"transform":[{"filter":"datum.s=='b'"}],"mark":{"type":"line","color":"#b41e3c","strokeWidth":0.8},"encoding":{"x":{"field":"t","type":"quantitative","title":"Size"},"y":{"field":"v","type":"quantitative","title":"[RFU x 100]"}}},
{"transform":[{"filter":"datum.s=='m'"}],"mark":{"type":"point","shape":"M-1,0H1M0,-1V1","size":28,"strokeWidth":1.2,"filled":false,"opacity":1},"encoding":{"x":{"field":"t","type":"quantitative","title":"Size"},"y":{"field":"v","type":"quantitative","title":"[RFU x 100]"},"color":{"field":"k","type":"nominal","scale":{"domain":["L","S","B"],"range":["#4dc24d","#e3262b","#38b838"]},"legend":null}}},
{"transform":[{"filter":"datum.s=='l'"}],"mark":{"type":"text","angle":-62,"align":"left","baseline":"middle","dx":4,"fontSize":3.2,"color":"#222222"},"encoding":{"x":{"field":"t","type":"quantitative","title":"Size"},"y":{"field":"v","type":"quantitative","title":"[RFU x 100]"},"text":{"field":"lab"}}},
{"transform":[{"filter":"datum.s=='P'"}],"mark":{"type":"text","font":"Liberation Serif","fontSize":15,"color":"#111111"},"encoding":{"x":{"field":"t","type":"quantitative","title":"Size"},"y":{"field":"v","type":"quantitative","title":"[RFU x 100]"},"text":{"field":"lab"}}}
]},
{"title":"H","width":156,"height":178,"data":{"name":"H"},"layer":[
{"transform":[{"filter":"datum.s=='g'"}],"mark":{"type":"rect","color":"#dcdcdc"},"encoding":{"x":{"field":"t","type":"quantitative","title":"Size","scale":{"domain":[-4,100],"nice":false,"zero":false},"axis":{"values":[34,37.7,41.6,45.7,49,53,57,66,75,82,96.6],"labelExpr":"['15','50','100','150','200','250','300','400','500','700','[bp]'][indexof([34,37.7,41.6,45.7,49,53,57,66,75,82,96.6],datum.value)]"}},"x2":{"field":"t2"}}},
{"transform":[{"filter":"datum.s=='p'"}],"mark":{"type":"area","color":"#a9ddf6"},"encoding":{"x":{"field":"t","type":"quantitative","title":"Size"},"y":{"field":"v","type":"quantitative","title":"[RFU x 100]","scale":{"domain":[-0.12,2.21],"nice":false,"zero":false},"axis":{"values":[0,0.2,0.4,0.6,0.8,1,1.2,1.4,1.6,1.8,2],"format":".2f"}},"y2":{"datum":0}}},
{"transform":[{"filter":"datum.s=='p'"}],"mark":{"type":"line","color":"#2b9fe0","strokeWidth":0.8},"encoding":{"x":{"field":"t","type":"quantitative","title":"Size"},"y":{"field":"v","type":"quantitative","title":"[RFU x 100]"}}},
{"transform":[{"filter":"datum.s=='h'"}],"mark":{"type":"line","color":"#3a3ae0","strokeWidth":1.5},"encoding":{"x":{"field":"t","type":"quantitative","title":"Size"},"y":{"field":"v","type":"quantitative","title":"[RFU x 100]"}}},
{"transform":[{"filter":"datum.s=='b'"}],"mark":{"type":"line","color":"#b41e3c","strokeWidth":0.8},"encoding":{"x":{"field":"t","type":"quantitative","title":"Size"},"y":{"field":"v","type":"quantitative","title":"[RFU x 100]"}}},
{"transform":[{"filter":"datum.s=='m'"}],"mark":{"type":"point","shape":"M-1,0H1M0,-1V1","size":28,"strokeWidth":1.2,"filled":false,"opacity":1},"encoding":{"x":{"field":"t","type":"quantitative","title":"Size"},"y":{"field":"v","type":"quantitative","title":"[RFU x 100]"},"color":{"field":"k","type":"nominal","scale":{"domain":["L","S","B"],"range":["#4dc24d","#e3262b","#38b838"]},"legend":null}}},
{"transform":[{"filter":"datum.s=='l'"}],"mark":{"type":"text","angle":-62,"align":"left","baseline":"middle","dx":4,"fontSize":3.2,"color":"#222222"},"encoding":{"x":{"field":"t","type":"quantitative","title":"Size"},"y":{"field":"v","type":"quantitative","title":"[RFU x 100]"},"text":{"field":"lab"}}},
{"transform":[{"filter":"datum.s=='P'"}],"mark":{"type":"text","font":"Liberation Serif","fontSize":15,"color":"#111111"},"encoding":{"x":{"field":"t","type":"quantitative","title":"Size"},"y":{"field":"v","type":"quantitative","title":"[RFU x 100]"},"text":{"field":"lab"}}}
]},
{"title":"I","width":156,"height":174,"data":{"name":"I"},"layer":[
{"transform":[{"filter":"datum.s=='g'"}],"mark":{"type":"rect","color":"#dcdcdc"},"encoding":{"x":{"field":"t","type":"quantitative","title":"Size","scale":{"domain":[-4,100],"nice":false,"zero":false},"axis":{"values":[29.3,31.5,35.5,38,42.7,46.7,50,59,65.5,71,93.8],"labelExpr":"['15','50','100','150','200','250','300','400','500','700','[bp]'][indexof([29.3,31.5,35.5,38,42.7,46.7,50,59,65.5,71,93.8],datum.value)]"}},"x2":{"field":"t2"}}},
{"transform":[{"filter":"datum.s=='p'"}],"mark":{"type":"area","color":"#a9ddf6"},"encoding":{"x":{"field":"t","type":"quantitative","title":"Size"},"y":{"field":"v","type":"quantitative","title":"[RFU x 100]","scale":{"domain":[-0.04,1.068],"nice":false,"zero":false},"axis":{"values":[0,0.1,0.2,0.3,0.4,0.5,0.6,0.7,0.8,0.9,1],"format":".2f"}},"y2":{"datum":0}}},
{"transform":[{"filter":"datum.s=='p'"}],"mark":{"type":"line","color":"#2b9fe0","strokeWidth":0.8},"encoding":{"x":{"field":"t","type":"quantitative","title":"Size"},"y":{"field":"v","type":"quantitative","title":"[RFU x 100]"}}},
{"transform":[{"filter":"datum.s=='h'"}],"mark":{"type":"line","color":"#3a3ae0","strokeWidth":1.1},"encoding":{"x":{"field":"t","type":"quantitative","title":"Size"},"y":{"field":"v","type":"quantitative","title":"[RFU x 100]"}}},
{"transform":[{"filter":"datum.s=='b'"}],"mark":{"type":"line","color":"#b41e3c","strokeWidth":0.8},"encoding":{"x":{"field":"t","type":"quantitative","title":"Size"},"y":{"field":"v","type":"quantitative","title":"[RFU x 100]"}}},
{"transform":[{"filter":"datum.s=='m'"}],"mark":{"type":"point","shape":"M-1,0H1M0,-1V1","size":28,"strokeWidth":1.2,"filled":false,"opacity":1},"encoding":{"x":{"field":"t","type":"quantitative","title":"Size"},"y":{"field":"v","type":"quantitative","title":"[RFU x 100]"},"color":{"field":"k","type":"nominal","scale":{"domain":["L","S","B"],"range":["#4dc24d","#e3262b","#38b838"]},"legend":null}}},
{"transform":[{"filter":"datum.s=='l'"}],"mark":{"type":"text","angle":-62,"align":"left","baseline":"middle","dx":4,"fontSize":3.2,"color":"#222222"},"encoding":{"x":{"field":"t","type":"quantitative","title":"Size"},"y":{"field":"v","type":"quantitative","title":"[RFU x 100]"},"text":{"field":"lab"}}},
{"transform":[{"filter":"datum.s=='P'"}],"mark":{"type":"text","font":"Liberation Serif","fontSize":15,"color":"#111111"},"encoding":{"x":{"field":"t","type":"quantitative","title":"Size"},"y":{"field":"v","type":"quantitative","title":"[RFU x 100]"},"text":{"field":"lab"}}}
]},
{"title":"J","width":156,"height":174,"data":{"name":"J"},"layer":[
{"transform":[{"filter":"datum.s=='g'"}],"mark":{"type":"rect","color":"#dcdcdc"},"encoding":{"x":{"field":"t","type":"quantitative","title":"Size","scale":{"domain":[-4,100],"nice":false,"zero":false},"axis":{"values":[39,42,46,50.5,53,56.6,60,73.5,79,84.8,95],"labelExpr":"['15','50','100','150','200','250','300','400','500','700','[bp]'][indexof([39,42,46,50.5,53,56.6,60,73.5,79,84.8,95],datum.value)]"}},"x2":{"field":"t2"}}},
{"transform":[{"filter":"datum.s=='p'"}],"mark":{"type":"area","color":"#a9ddf6"},"encoding":{"x":{"field":"t","type":"quantitative","title":"Size"},"y":{"field":"v","type":"quantitative","title":"[RFU x 100]","scale":{"domain":[-0.11,1.81],"nice":false,"zero":false},"axis":{"values":[-0.1,0,0.1,0.2,0.3,0.4,0.5,0.6,0.7,0.8,0.9,1,1.1,1.2,1.3,1.4,1.5,1.6,1.7,1.8],"format":".2f"}},"y2":{"datum":0}}},
{"transform":[{"filter":"datum.s=='p'"}],"mark":{"type":"line","color":"#2b9fe0","strokeWidth":0.8},"encoding":{"x":{"field":"t","type":"quantitative","title":"Size"},"y":{"field":"v","type":"quantitative","title":"[RFU x 100]"}}},
{"transform":[{"filter":"datum.s=='h'"}],"mark":{"type":"line","color":"#3a3ae0","strokeWidth":1.1},"encoding":{"x":{"field":"t","type":"quantitative","title":"Size"},"y":{"field":"v","type":"quantitative","title":"[RFU x 100]"}}},
{"transform":[{"filter":"datum.s=='b'"}],"mark":{"type":"line","color":"#b41e3c","strokeWidth":0.8},"encoding":{"x":{"field":"t","type":"quantitative","title":"Size"},"y":{"field":"v","type":"quantitative","title":"[RFU x 100]"}}},
{"transform":[{"filter":"datum.s=='m'"}],"mark":{"type":"point","shape":"M-1,0H1M0,-1V1","size":28,"strokeWidth":1.2,"filled":false,"opacity":1},"encoding":{"x":{"field":"t","type":"quantitative","title":"Size"},"y":{"field":"v","type":"quantitative","title":"[RFU x 100]"},"color":{"field":"k","type":"nominal","scale":{"domain":["L","S","B"],"range":["#4dc24d","#e3262b","#38b838"]},"legend":null}}},
{"transform":[{"filter":"datum.s=='l'"}],"mark":{"type":"text","angle":-62,"align":"left","baseline":"middle","dx":4,"fontSize":3.2,"color":"#222222"},"encoding":{"x":{"field":"t","type":"quantitative","title":"Size"},"y":{"field":"v","type":"quantitative","title":"[RFU x 100]"},"text":{"field":"lab"}}},
{"transform":[{"filter":"datum.s=='P'"}],"mark":{"type":"text","font":"Liberation Serif","fontSize":15,"color":"#111111"},"encoding":{"x":{"field":"t","type":"quantitative","title":"Size"},"y":{"field":"v","type":"quantitative","title":"[RFU x 100]"},"text":{"field":"lab"}}}
]}
]
}
